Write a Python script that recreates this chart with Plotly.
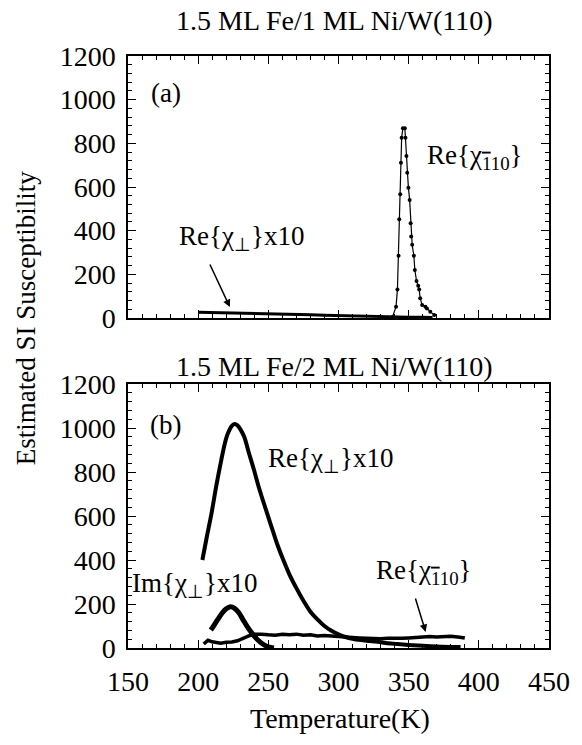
import plotly.graph_objects as go

# ---------------- data ----------------
# Panel (a): 1.5 ML Fe / 1 ML Ni / W(110)
a_perp_T = [200, 210, 220, 230, 240, 250, 260, 270, 280, 290, 300, 310, 320, 330, 340, 350, 360, 367]
a_perp_v = [26, 25, 24, 23, 22, 20, 19, 17, 15, 13, 11, 10, 8, 7, 5, 4, 3, 2]

a_110_T = [338.5, 341, 342, 342.8, 343.3, 344, 344.5, 345, 345.9, 347.3, 347.7, 348.4, 349, 349.8,
           350.7, 351.4, 351.8, 352.5, 353.7, 354.4, 355.6, 356.8, 357.5, 358.2, 359.6, 361.9, 363,
           365.4, 368.2]
a_110_v = [5, 52, 131, 285, 452, 567, 711, 826, 869, 869, 826, 742, 665, 597,
           541, 434, 373, 335, 285, 220, 170, 148, 131, 90, 60, 52, 44,
           29, 14]

# Panel (b): 1.5 ML Fe / 2 ML Ni / W(110)
b_perp_T = [203, 206, 209.5, 213, 216.5, 219, 221.2, 224, 226, 228, 230, 232.8, 236, 239.8, 243,
            246.8, 250, 253.8, 257, 260.7, 265, 270, 275, 280, 285, 290, 295, 300, 305, 310, 316,
            322, 328, 335, 342, 350, 360, 370, 380, 387]
b_perp_v = [400, 500, 612, 740, 855, 930, 976, 1010, 1018, 1012, 995, 960, 890, 809, 735,
            658, 595, 521, 460, 400, 335, 272, 215, 165, 130, 100, 78, 62, 50, 42, 36,
            32, 28, 22, 18, 14, 10, 7, 5, 4]

b_im_T = [209, 211, 214, 217, 220, 223, 226, 229, 232, 235, 238, 242, 246, 250, 254]
b_im_v = [82, 100, 130, 158, 178, 187, 180, 160, 128, 97, 70, 40, 18, 5, 0]

b_110_T = [204, 207, 210, 213, 216, 220, 224, 228, 232, 236, 240, 245, 250, 255, 260, 265, 270,
           275, 280, 285, 290, 295, 300, 305, 310, 315, 320, 325, 330, 335, 340, 345, 350, 355,
           360, 365, 370, 375, 380, 385, 390]
b_110_v = [18, 35, 28, 25, 22, 26, 27, 33, 45, 55, 62, 63, 60, 58, 62, 60, 63,
           58, 60, 55, 57, 54, 52, 50, 48, 46, 44, 45, 42, 44, 43, 44, 46, 48,
           50, 52, 50, 52, 53, 50, 45]

x_ticks = [150, 200, 250, 300, 350, 400, 450]
y_ticks = [0, 200, 400, 600, 800, 1000, 1200]

title_a = "1.5 ML Fe/1 ML Ni/W(110)"
title_b = "1.5 ML Fe/2 ML Ni/W(110)"

# ---------------- figure ----------------
FONT = "Liberation Serif, Times New Roman, serif"
W, H = 582, 745
ml, mr, mt, mb = 128, 24, 56, 97
pw = W - ml - mr
ph = H - mt - mb
top_dom = [(648 - 318) / ph, 1.0]
bot_dom = [0.0, (648 - 384) / ph]


def px(xp):
    return (xp - ml) / pw


def py(yp):
    return (H - mb - yp) / ph


fig = go.Figure()

fig.add_trace(go.Scatter(x=a_perp_T, y=a_perp_v, mode="lines", line=dict(color="black", width=3),
                         xaxis="x2", yaxis="y2", showlegend=False))
fig.add_trace(go.Scatter(x=a_110_T, y=a_110_v, mode="lines+markers",
                         line=dict(color="black", width=1.2),
                         marker=dict(color="black", size=4),
                         xaxis="x2", yaxis="y2", showlegend=False))

fig.add_trace(go.Scatter(x=b_110_T, y=b_110_v, mode="lines", line=dict(color="black", width=3.5),
                         xaxis="x", yaxis="y", showlegend=False))
fig.add_trace(go.Scatter(x=b_perp_T, y=b_perp_v, mode="lines", line=dict(color="black", width=4, shape="spline"),
                         xaxis="x", yaxis="y", showlegend=False))
fig.add_trace(go.Scatter(x=b_im_T, y=b_im_v, mode="lines", line=dict(color="black", width=5, shape="spline"),
                         xaxis="x", yaxis="y", showlegend=False))

axis_common = dict(
    showline=True, linecolor="black", linewidth=1.5, mirror="allticks",
    ticks="inside", ticklen=8, tickwidth=1.3, tickcolor="black",
    showgrid=False, zeroline=False,
    tickfont=dict(family=FONT, size=28, color="black"),
)
minor_x = dict(dtick=10, tick0=150, ticks="inside", ticklen=4, tickcolor="black", tickwidth=1)
minor_y = dict(dtick=40, tick0=0, ticks="inside", ticklen=4, tickcolor="black", tickwidth=1)

fig.update_layout(
    width=W, height=H,
    margin=dict(l=ml, r=mr, t=mt, b=mb),
    plot_bgcolor="white", paper_bgcolor="white",
    font=dict(family=FONT, color="black"),
    xaxis=dict(**axis_common, range=[150, 450], tickvals=x_ticks, anchor="y", domain=[0, 1],
               minor=minor_x, ticklabelstandoff=8),
    xaxis2=dict(**axis_common, range=[150, 450], tickvals=x_ticks, anchor="y2", showticklabels=False,
                matches="x", minor=minor_x),
    yaxis=dict(**axis_common, range=[0, 1200], tickvals=y_ticks, domain=bot_dom, anchor="x",
               minor=minor_y, ticklabelstandoff=5),
    yaxis2=dict(**axis_common, range=[0, 1200], tickvals=y_ticks, domain=top_dom, anchor="x2",
                minor=minor_y, ticklabelstandoff=5),
)

chi_perp = "χ<sub>⊥</sub>"
chi_110 = "χ<sub><span style='text-decoration:overline'>1</span>10</sub>"

AF = 27
ann = []
ann.append(dict(text=title_a, xref="paper", yref="paper", x=px(339), y=py(20),
                xanchor="center", yanchor="middle", showarrow=False, font=dict(size=28)))
ann.append(dict(text=title_b, xref="paper", yref="paper", x=px(339), y=py(366),
                xanchor="center", yanchor="middle", showarrow=False, font=dict(size=28)))
ann.append(dict(text="Estimated SI Susceptibility", xref="paper", yref="paper",
                x=px(24), y=py(318), xanchor="center", yanchor="middle",
                textangle=-90, showarrow=False, font=dict(size=27)))
ann.append(dict(text="Temperature(K)", xref="paper", yref="paper",
                x=px(345), y=py(718), xanchor="center", yanchor="middle",
                showarrow=False, font=dict(size=28)))

# panel (a) labels
ann.append(dict(text="(a)", xref="x2", yref="y2", x=177, y=1030, showarrow=False, font=dict(size=AF)))
ann.append(dict(text="Re{" + chi_perp + "}x10", xref="x2", yref="y2", x=231, y=366,
                showarrow=False, font=dict(size=AF)))
ann.append(dict(text="", xref="x2", yref="y2", x=222.6, y=50, ax=207.9, ay=252,
                axref="x2", ayref="y2", showarrow=True, arrowhead=2, arrowsize=1, arrowwidth=1.5,
                arrowcolor="black"))
ann.append(dict(text="Re{" + chi_110 + "}", xref="x2", yref="y2", x=397, y=737,
                showarrow=False, font=dict(size=AF)))

# panel (b) labels
ann.append(dict(text="(b)", xref="x", yref="y", x=177, y=1014, showarrow=False, font=dict(size=AF)))
ann.append(dict(text="Re{" + chi_perp + "}x10", xref="x", yref="y", x=294.4, y=855,
                showarrow=False, font=dict(size=AF)))
ann.append(dict(text="Im{" + chi_perp + "}x10", xref="x", yref="y", x=197.4, y=286,
                showarrow=False, font=dict(size=AF)))
ann.append(dict(text="Re{" + chi_110 + "}", xref="x", yref="y", x=361, y=345,
                showarrow=False, font=dict(size=AF)))
ann.append(dict(text="", xref="x", yref="y", x=362.1, y=73, ax=354.5, ay=232,
                axref="x", ayref="y", showarrow=True, arrowhead=2, arrowsize=1, arrowwidth=1.5,
                arrowcolor="black"))

fig.update_layout(annotations=ann)
fig.write_html("out.html")
